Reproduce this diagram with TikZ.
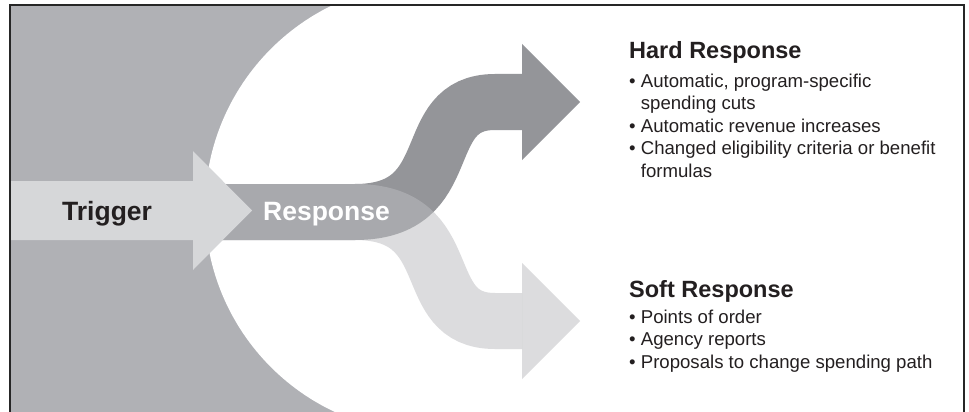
\documentclass[tikz,border=0pt]{standalone}
\usepackage{fontspec}
\setmainfont{Liberation Sans}
\definecolor{bggray}{RGB}{176,177,181}
\definecolor{trig}{RGB}{214,215,217}
\definecolor{darkband}{RGB}{148,149,153}
\definecolor{lightband}{RGB}{188,189,192}
\definecolor{txt}{RGB}{35,31,32}
\begin{document}
\begin{tikzpicture}[x=1pt,y=-1pt,
  band/.style={line width=56pt, line cap=butt},
  lbl/.style={inner sep=0pt, anchor=base west, text=txt, font=\fontsize{18.6}{22}\selectfont},
  bigbold/.style={inner sep=0pt, anchor=base west, font=\bfseries\fontsize{26.5}{30}\selectfont},
  head/.style={inner sep=0pt, anchor=base west, text=txt, font=\bfseries\fontsize{23.5}{27}\selectfont},
]
\useasboundingbox (0,0) rectangle (969,412);
% grey background left of the white disc
\begin{scope}
  \clip (10,5) rectangle (964,412);
  \fill[bggray] (10,5) rectangle (430,412);
  \fill[white] (430,208) circle[radius=225pt];
\end{scope}
% band coordinates
\coordinate (s) at (215,212);
\coordinate (k) at (355,212);
\coordinate (ue) at (495,102);
\coordinate (ub) at (522,102);
\coordinate (le) at (495,321);
\coordinate (lb) at (522,321);
% hard response band (dark)
\draw[band, darkband] (s) -- (k) .. controls (462,212) and (415,102) .. (ue) -- (ub);
\fill[darkband] (522,44) -- (580,102) -- (522,160) -- cycle;
% soft response band (light, translucent)
\draw[band, lightband, draw opacity=0.52] (s) -- (k) .. controls (462,212) and (415,321) .. (le) -- (lb);
\fill[lightband, fill opacity=0.52] (522,263) -- (580,321) -- (522,379) -- cycle;
% trigger arrow
\fill[trig] (10,181) -- (193,181) -- (193,151) -- (252,210.5) -- (193,270) -- (193,240) -- (10,240) -- cycle;
% frame
\draw[line width=1.5pt, black!85] (10,412) -- (10,5) -- (964,5) -- (964,412);
% labels
\node[bigbold, text=txt] (trigger) at (62,220) {Trigger};
\node[bigbold, text=white] (response) at (263,220) {Response};
\node[head] (hard) at (629,59) {Hard Response};
\node[lbl] (h1) at (629,87) {• Automatic, program-specific};
\node[lbl] (h2) at (629,110) {\phantom{• }spending cuts};
\node[lbl] (h3) at (629,132) {• Automatic revenue increases};
\node[lbl] (h4) at (629,154.5) {• Changed eligibility criteria or benefit};
\node[lbl] (h5) at (629,177) {\phantom{• }formulas};
\node[head] (soft) at (629,297.5) {Soft Response};
\node[lbl] (s1) at (629,323) {• Points of order};
\node[lbl] (s2) at (629,345.5) {• Agency reports};
\node[lbl] (s3) at (629,368) {• Proposals to change spending path};
\end{tikzpicture}
\end{document}
